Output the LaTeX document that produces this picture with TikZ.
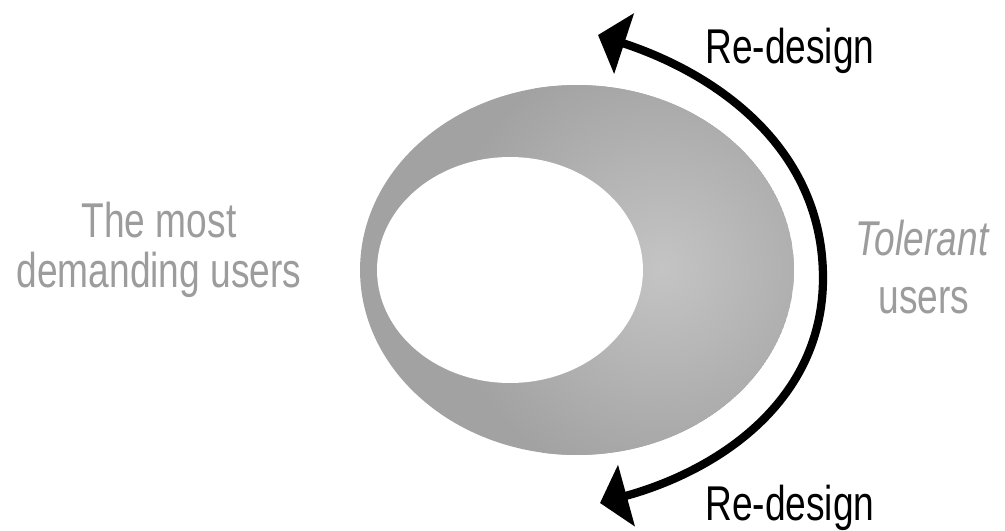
\documentclass[tikz,border=0pt]{standalone}
\usepackage{fontspec}
\newfontfamily\labfont[FakeStretch=0.76]{Liberation Sans}
\usetikzlibrary{arrows.meta}
\definecolor{ringgray}{HTML}{A2A2A2}
\definecolor{ringlight}{HTML}{C4C4C4}
\definecolor{txtgray}{HTML}{9C9C9C}
\tikzset{
  darklabel/.style={font=\labfont\fontsize{27.8}{30}\selectfont, text=black, inner sep=0pt},
  graylabel/.style={font=\labfont\fontsize{27.8}{30}\selectfont, text=txtgray, inner sep=0pt},
  redesign/.style={line width=0.165cm, draw=black,
    arrows={Triangle[width=1.25cm,length=0.55cm]-Triangle[width=1.25cm,length=0.55cm]}}
}
\begin{document}
\begin{tikzpicture}[x=0.02cm,y=-0.02cm]
\useasboundingbox (0,0) rectangle (1005,531);
% ring
\begin{scope}
  \clip (577,270) ellipse [x radius=4.34cm, y radius=3.7cm];
  \fill[ringgray] (577,270) ellipse [x radius=4.34cm, y radius=3.7cm];
  \shade[inner color=ringlight, outer color=ringgray] (662,268) circle [radius=4.4cm];
\end{scope}
\fill[white] (510,270) ellipse [x radius=2.66cm, y radius=2.26cm];
% arrow
\coordinate (tipT) at (598,35);
\coordinate (R) at (823,278);
\coordinate (tipB) at (600,503);
\draw[redesign] (tipT) .. controls (720,75) and (823,150) .. (R)
                       .. controls (823,400) and (720,470) .. (tipB);
% labels
\node[darklabel, anchor=base west] (rd1) at (705,63) {Re-design};
\node[darklabel, anchor=base west] (rd2) at (705,520) {Re-design};
\node[graylabel, anchor=base] (m1) at (159,237) {The most};
\node[graylabel, anchor=base] (m2) at (159,287) {demanding users};
\node[graylabel, anchor=base] (t1) at (922,255) {\itshape Tolerant};
\node[graylabel, anchor=base] (t2) at (924,313) {users};
\end{tikzpicture}
\end{document}
